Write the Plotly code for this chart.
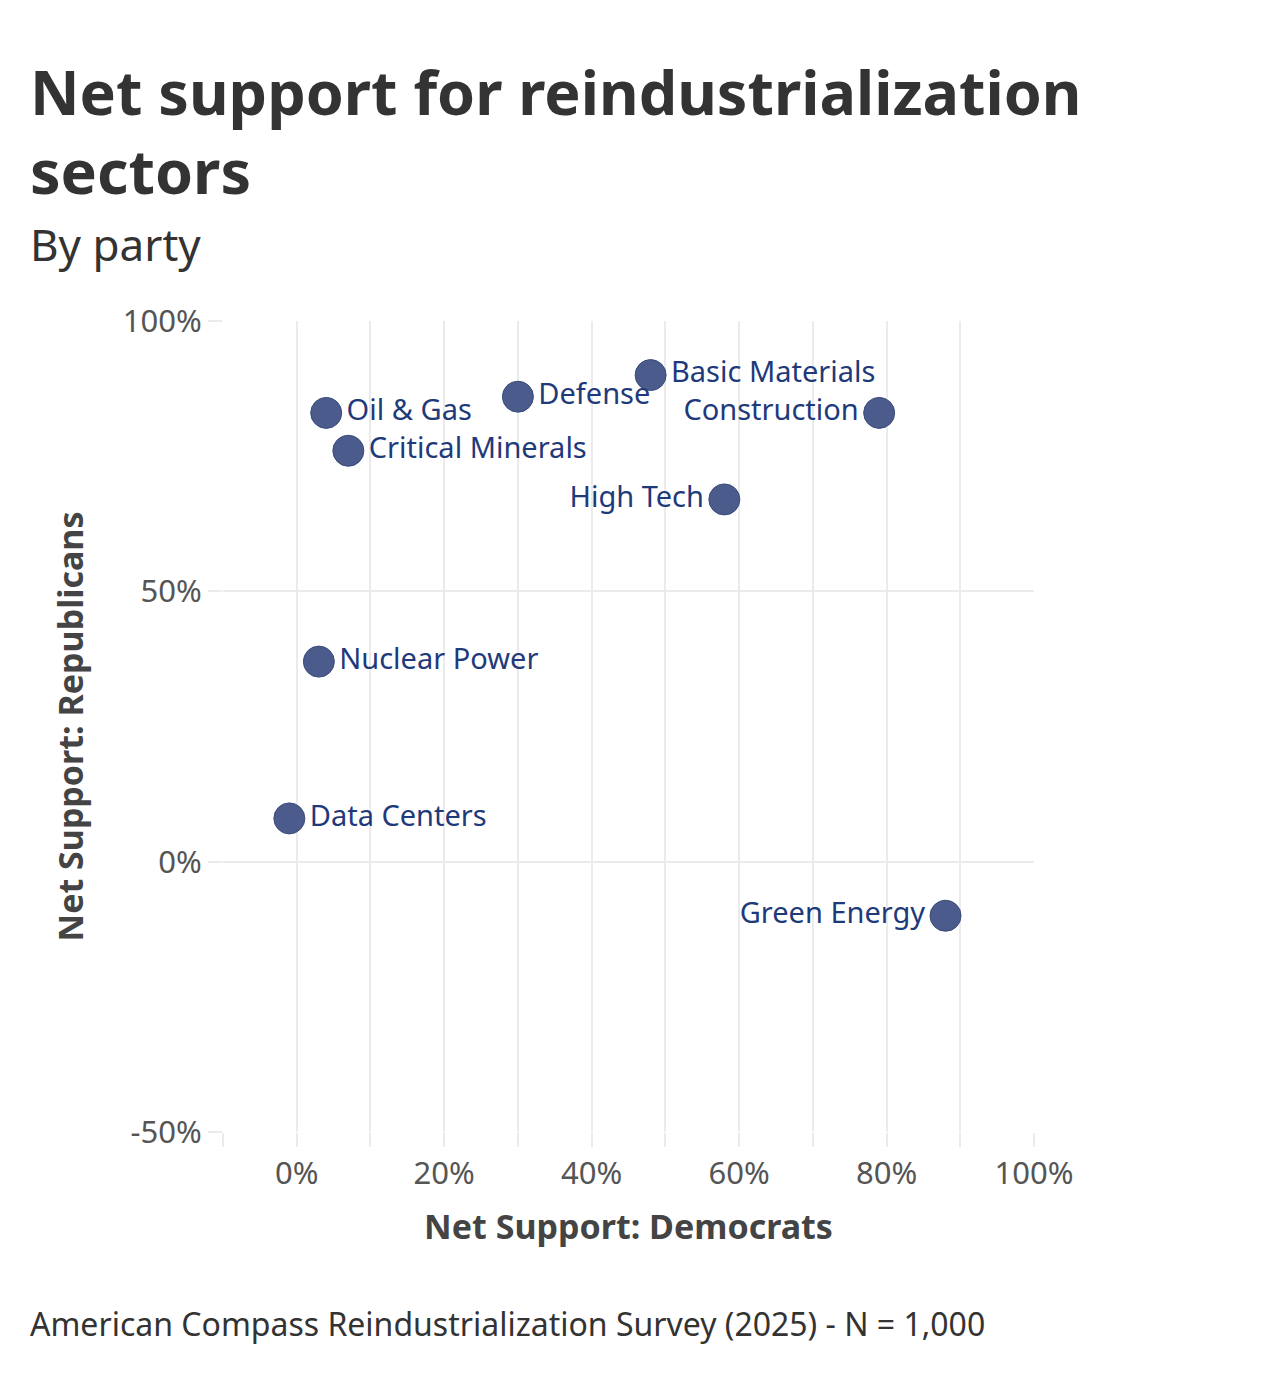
import plotly.graph_objects as go

sectors = ["Oil & Gas", "Critical Minerals", "Defense", "Basic Materials", "Construction",
           "High Tech", "Nuclear Power", "Data Centers", "Green Energy"]
dem = [4, 7, 30, 48, 79, 58, 3, -1, 88]
rep = [83, 76, 86, 90, 83, 67, 37, 8, -10]
label_pos = ["middle right", "middle right", "middle right", "middle right", "middle left",
             "middle left", "middle right", "middle right", "middle left"]

x_ticks = list(range(-10, 101, 10))
x_ticktext = [f"{v}%" if v >= 0 and v % 20 == 0 else "" for v in x_ticks]
y_ticks = [-50, 0, 50, 100]
y_ticktext = ["-50%", "0%", "50%", "100%"]

W, H = 1280, 1398
L, R, T, B = 223, 246, 321, 266
pw, ph = W - L - R, H - T - B

def px_x(p):
    return (p - L) / pw

def px_y(p):
    return (H - B - p) / ph

font = "Noto Sans"
grid = "#ebebeb"

fig = go.Figure()
fig.add_trace(go.Scatter(
    x=dem, y=rep, text=sectors, mode="markers+text",
    textposition=label_pos,
    textfont=dict(family=font, size=29, color="#1f3a7a"),
    marker=dict(size=31, color="#4a5b8c", line=dict(color="#3a4a7a", width=1)),
    cliponaxis=False, hoverinfo="skip"
))

fig.update_layout(
    width=W, height=H,
    margin=dict(l=L, r=R, t=T, b=B),
    paper_bgcolor="white", plot_bgcolor="white",
    showlegend=False,
    font=dict(family=font, color="#444"),
    xaxis=dict(range=[-10, 100], tickvals=x_ticks, ticktext=x_ticktext,
               showgrid=True, gridcolor=grid, gridwidth=2, zeroline=False,
               ticks="outside", ticklen=14, tickcolor=grid, tickwidth=2,
               tickfont=dict(family=font, size=31, color="#555"),
               title=dict(text="<b>Net Support: Democrats</b>",
                          font=dict(family=font, size=34, color="#444"), standoff=22),
               showline=False, fixedrange=True),
    yaxis=dict(range=[-50, 100], tickvals=y_ticks, ticktext=y_ticktext,
               showgrid=True, gridcolor=grid, gridwidth=2, zeroline=False,
               ticks="outside", ticklen=14, tickcolor=grid, tickwidth=2,
               tickfont=dict(family=font, size=31, color="#555"),
               title=dict(text="<b>Net Support: Republicans</b>",
                          font=dict(family=font, size=34, color="#444"), standoff=28),
               showline=False, fixedrange=True),
)

fig.add_annotation(text="<b>Net support for reindustrialization<br>sectors</b>",
                   xref="paper", yref="paper", x=px_x(28), y=px_y(48),
                   xanchor="left", yanchor="top", align="left", showarrow=False,
                   font=dict(family=font, size=61, color="#333"))
fig.add_annotation(text="By party",
                   xref="paper", yref="paper", x=px_x(28), y=px_y(212),
                   xanchor="left", yanchor="top", align="left", showarrow=False,
                   font=dict(family=font, size=44, color="#333"))
fig.add_annotation(text="American Compass Reindustrialization Survey (2025) - N = 1,000",
                   xref="paper", yref="paper", x=px_x(28), y=px_y(1300),
                   xanchor="left", yanchor="top", align="left", showarrow=False,
                   font=dict(family=font, size=32, color="#333"))

fig.write_html("out.html")
